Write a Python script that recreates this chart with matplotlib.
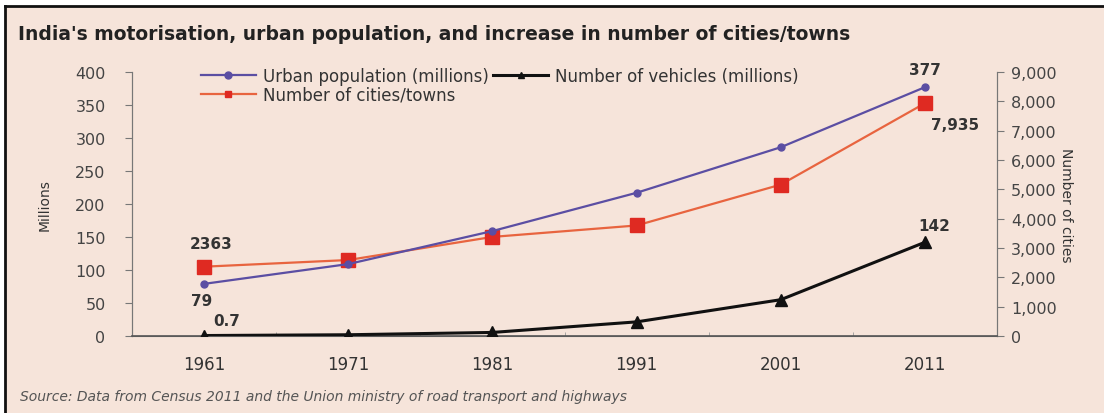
import matplotlib
matplotlib.use('Agg')
import matplotlib.pyplot as plt
from matplotlib.patches import Rectangle
from matplotlib.ticker import FuncFormatter, FixedLocator

years = ['1961', '1971', '1981', '1991', '2001', '2011']
urban_pop = [79, 109, 159, 217, 286, 377]          # millions
vehicles = [0.7, 1.9, 5.4, 21.4, 55.0, 142]        # millions
cities = [2363, 2590, 3378, 3768, 5161, 7935]      # number of cities/towns

bg = '#f6e4da'
blue = '#5b4ea3'
red_line = '#e8643f'
red_mark = '#df2a22'
narrow = ['Liberation Sans Narrow', 'DejaVu Sans']

fig = plt.figure(figsize=(11.04, 4.14), dpi=100)
fig.patch.set_facecolor('white')

# shaded panel with black top/left edge
panel = Rectangle((5 / 1104, 0), 1.0, 1 - 7 / 414, transform=fig.transFigure,
                  facecolor=bg, edgecolor='none', zorder=-10)
fig.patches.append(panel)
fig.add_artist(plt.Line2D([5 / 1104, 5 / 1104], [0, 1 - 7 / 414], color='#111111', lw=2,
                          transform=fig.transFigure))
fig.add_artist(plt.Line2D([5 / 1104, 1], [1 - 7 / 414, 1 - 7 / 414], color='#111111', lw=2,
                          transform=fig.transFigure))

fig.text(18 / 1104, 1 - 35 / 414,
         "India's motorisation, urban population, and increase in number of cities/towns",
         fontsize=13.5, fontweight='bold', family=narrow,
         color='#222222', va='center', ha='left')
fig.text(20 / 1104, 1 - 397 / 414,
         'Source: Data from Census 2011 and the Union ministry of road transport and highways',
         fontsize=10, style='italic', family=narrow,
         color='#555555', va='center', ha='left')

ax = fig.add_axes([132 / 1104, 1 - 337 / 414, (997 - 132) / 1104, (337 - 73) / 414])
ax.set_facecolor('none')
x = list(range(len(years)))

ax2 = ax.twinx()
ax.set_zorder(3)
ax2.set_zorder(2)

l_urban, = ax.plot(x, urban_pop, color=blue, lw=1.6, marker='o', ms=5,
                   label='Urban population (millions)', zorder=4)
l_veh, = ax.plot(x, vehicles, color='#111111', lw=2.2, marker='^', ms=9,
                 label='Number of vehicles (millions)', zorder=4)
l_city, = ax2.plot(x, cities, color=red_line, lw=1.6, marker='s', ms=10,
                   markerfacecolor=red_mark, markeredgecolor=red_mark,
                   label='Number of cities/towns', zorder=3)

ax.set_xlim(-0.5, 5.5)
ax.set_ylim(0, 400)
ax2.set_ylim(0, 9000)
ax.set_yticks(range(0, 401, 50))
ax2.set_yticks(range(0, 9001, 1000))
ax2.yaxis.set_major_formatter(FuncFormatter(lambda v, p: f'{int(v):,}'))

ax.set_xticks(x)
ax.set_xticklabels(years, family=narrow, fontsize=12, color='#333333')
ax.xaxis.set_minor_locator(FixedLocator([i + 0.5 for i in range(-1, 6)]))
ax.tick_params(axis='x', which='major', length=0, pad=14)
ax.tick_params(axis='x', which='minor', length=3, color='#999999', direction='in')
ax.tick_params(axis='y', length=5, color='#777777', labelsize=11.5, labelcolor='#444444', pad=14)
ax2.tick_params(axis='y', length=5, color='#777777', labelsize=11.5, labelcolor='#444444', pad=5)

for a in (ax, ax2):
    a.spines['top'].set_visible(False)
for s in ('left', 'right', 'bottom'):
    ax2.spines[s].set_color('#777777')
    ax.spines[s].set_color('#777777')
ax.spines['bottom'].set_color('#555555')
ax.spines['bottom'].set_linewidth(1.2)

ax.set_ylabel('Millions', family=narrow, fontsize=10,
              color='#333333', labelpad=17)
ax2.set_ylabel('Number of cities', family=narrow, fontsize=10,
               color='#333333', rotation=270, labelpad=12)

# value labels at the first and last points
lab = dict(fontsize=11, fontweight='bold', color='#333333', ha='center', va='center',
           textcoords='offset points')
ax.annotate(f'{urban_pop[0]}', (0, urban_pop[0]), xytext=(-2, -12), **lab)
ax.annotate(f'{urban_pop[-1]}', (5, urban_pop[-1]), xytext=(0, 13), **lab)
ax.annotate(f'{vehicles[0]}', (0, vehicles[0]), xytext=(16, 11), **lab)
ax.annotate(f'{vehicles[-1]:g}', (5, vehicles[-1]), xytext=(7, 12), **lab)
ax.annotate(f'{cities[0]}', (0, cities[0] * 400 / 9000), xytext=(5, 17), **lab)
ax.annotate(f'{cities[-1]:,}', (5, cities[-1] * 400 / 9000), xytext=(22, -15), **lab)

leg = ax.legend([l_urban, l_city, l_veh],
                ['Urban population (millions)', 'Number of cities/towns', 'Number of vehicles (millions)'],
                ncol=2, loc='upper left', bbox_to_anchor=(0.072, 1.045), frameon=False,
                fontsize=12, handlelength=3.3, columnspacing=0.3, labelspacing=0.05,
                handletextpad=0.4, borderaxespad=0)
for h in leg.legend_handles:
    h.set_markersize(5)
for t in leg.get_texts():
    t.set_color('#333333')

fig.savefig('out.png', dpi=100, facecolor=fig.get_facecolor())
